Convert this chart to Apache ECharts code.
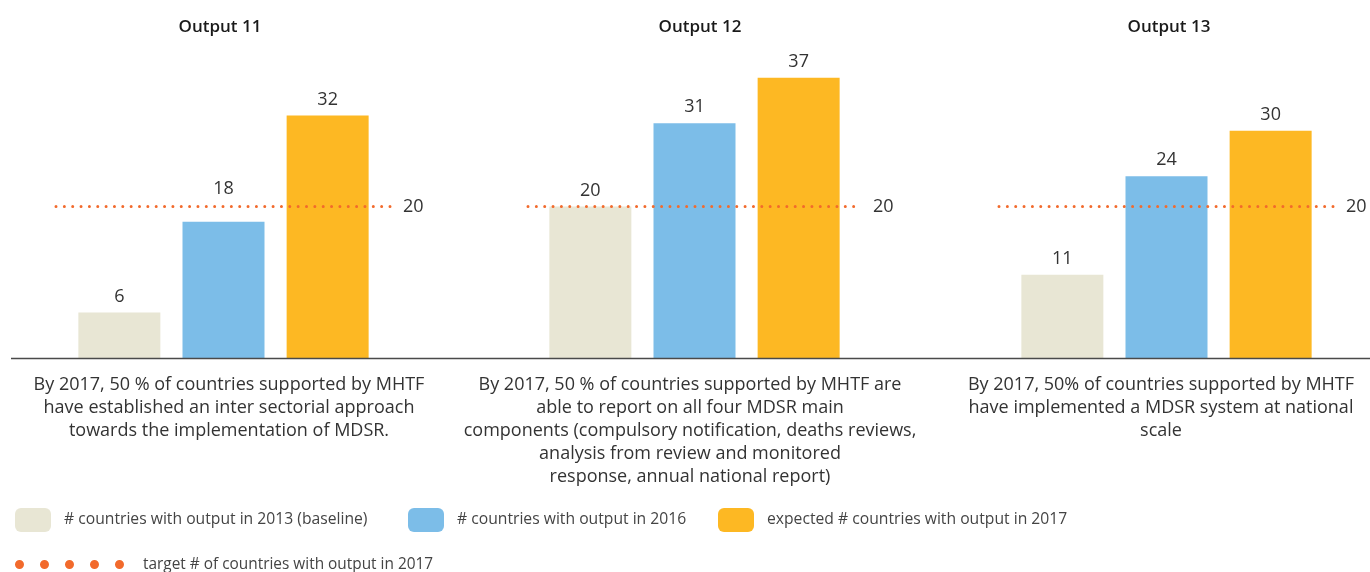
<!DOCTYPE html>
<html>
<head>
<meta charset="utf-8">
<script src="https://cdn.jsdelivr.net/npm/echarts@6/dist/echarts.min.js"></script>
<style>
  html, body { margin: 0; padding: 0; background: #fff; }
  #chart { width: 1370px; height: 572px; }
</style>
</head>
<body>
<div id="chart"></div>
<script>
// Output panels
const outputs = ['Output 11', 'Output 12', 'Output 13'];
const descriptions = [
  'By 2017, 50 % of countries supported by MHTF\nhave established an inter sectorial approach\ntowards the implementation of MDSR.',
  'By 2017, 50 % of countries supported by MHTF are\nable to report on all four MDSR main\ncomponents (compulsory notification, deaths reviews,\nanalysis from review and monitored\nresponse, annual national report)',
  'By 2017, 50% of countries supported by MHTF\nhave implemented a MDSR system at national\nscale'
];

// Number of countries per output
const baseline2013 = [6, 20, 11];
const actual2016 = [18, 31, 24];
const expected2017 = [32, 37, 30];
const target2017 = [20, 20, 20];

const seriesNames = [
  '# countries with output in 2013 (baseline)',
  '# countries with output in 2016',
  'expected # countries with output in 2017',
  'target # of countries with output in 2017'
];

const COLORS = ['#E8E6D4', '#7CBDE8', '#FDB823', '#F26A2C'];
const FONT = '"Open Sans", Lato, sans-serif';
const TEXT = '#333333';

// panel layout
const panels = [
  { left: 56, width: 335, titleX: 220, descX: 229 },
  { left: 528, width: 333, titleX: 700, descX: 690 },
  { left: 999, width: 335, titleX: 1169, descX: 1161 }
];

const grids = [], xAxes = [], yAxes = [], series = [], titles = [];

panels.forEach((p, i) => {
  grids.push({ left: p.left, width: p.width, top: 55, bottom: 214 });
  xAxes.push({ gridIndex: i, type: 'category', data: [outputs[i]], show: false });
  yAxes.push({ gridIndex: i, type: 'value', min: 0, max: 40, show: false });

  const values = [baseline2013, actual2016, expected2017];
  values.forEach((arr, k) => {
    const v = arr[i];
    // lift a value label clear of the target line when the bar ends just under it
    const nearTarget = v < target2017[i] && target2017[i] - v < 4;
    series.push({
      type: 'bar',
      name: seriesNames[k],
      xAxisIndex: i,
      yAxisIndex: i,
      data: [nearTarget ? { value: v, label: { distance: 24 } } : v],
      barWidth: 82,
      barGap: '27%',
      itemStyle: { color: COLORS[k] },
      label: {
        show: true,
        position: 'top',
        distance: 7,
        fontFamily: FONT,
        fontSize: 18,
        color: TEXT
      },
      emphasis: { disabled: true },
      silent: true,
      z: 2
    });
  });

  series.push({
    type: 'line',
    name: seriesNames[3],
    xAxisIndex: i,
    yAxisIndex: i,
    data: [],
    itemStyle: { color: COLORS[3] },
    lineStyle: { color: COLORS[3] },
    silent: true,
    z: 5,
    markLine: {
      silent: true,
      symbol: 'none',
      data: [{ yAxis: target2017[i] }],
      lineStyle: { color: COLORS[3], type: [0, 8.35], width: 3, cap: 'round' },
      label: {
        show: true,
        position: 'end',
        distance: 12,
        formatter: '{c}',
        fontFamily: FONT,
        fontSize: 18,
        color: TEXT
      },
      emphasis: { disabled: true }
    }
  });

  titles.push({
    text: outputs[i],
    left: p.titleX,
    top: 19,
    textAlign: 'center',
    padding: 0,
    textStyle: { fontFamily: FONT, fontSize: 17, fontWeight: 600, color: '#1a1a1a' }
  });
  titles.push({
    text: descriptions[i],
    left: p.descX,
    top: 373,
    textAlign: 'center',
    padding: 0,
    textStyle: { fontFamily: FONT, fontSize: 18, fontWeight: 'normal', color: TEXT, lineHeight: 23 }
  });
});

const legendText = { fontFamily: FONT, fontSize: 15.7, color: '#444', padding: [0, 0, 0, 8] };
const legends = [
  { data: [seriesNames[0]], left: 15, top: 508, icon: 'roundRect', itemWidth: 36, itemHeight: 24 },
  { data: [seriesNames[1]], left: 408, top: 508, icon: 'roundRect', itemWidth: 36, itemHeight: 24 },
  { data: [seriesNames[2]], left: 718, top: 508, icon: 'roundRect', itemWidth: 36, itemHeight: 24 },
  {
    data: [seriesNames[3]], left: 15, top: 557, itemWidth: 109, itemHeight: 9,
    icon: 'path://M0,4.5a4.5,4.5 0 1,0 9,0a4.5,4.5 0 1,0 -9,0z' +
          'M25,4.5a4.5,4.5 0 1,0 9,0a4.5,4.5 0 1,0 -9,0z' +
          'M50,4.5a4.5,4.5 0 1,0 9,0a4.5,4.5 0 1,0 -9,0z' +
          'M75,4.5a4.5,4.5 0 1,0 9,0a4.5,4.5 0 1,0 -9,0z' +
          'M100,4.5a4.5,4.5 0 1,0 9,0a4.5,4.5 0 1,0 -9,0z',
    textStyle: { fontFamily: FONT, fontSize: 15.4, color: '#444', padding: [0, 0, 0, 14] }
  }
].map(l => Object.assign({ padding: 0, selectedMode: false, textStyle: legendText }, l));

const chart = echarts.init(document.getElementById('chart'), null, { renderer: 'canvas' });
chart.setOption({
  backgroundColor: '#ffffff',
  animation: false,
  title: titles,
  legend: legends,
  grid: grids,
  xAxis: xAxes,
  yAxis: yAxes,
  series: series,
  graphic: [{
    type: 'line',
    z: 100,
    silent: true,
    shape: { x1: 11, y1: 358.5, x2: 1370, y2: 358.5 },
    style: { stroke: '#4a4a4a', lineWidth: 1.5 }
  }]
});
</script>
</body>
</html>
